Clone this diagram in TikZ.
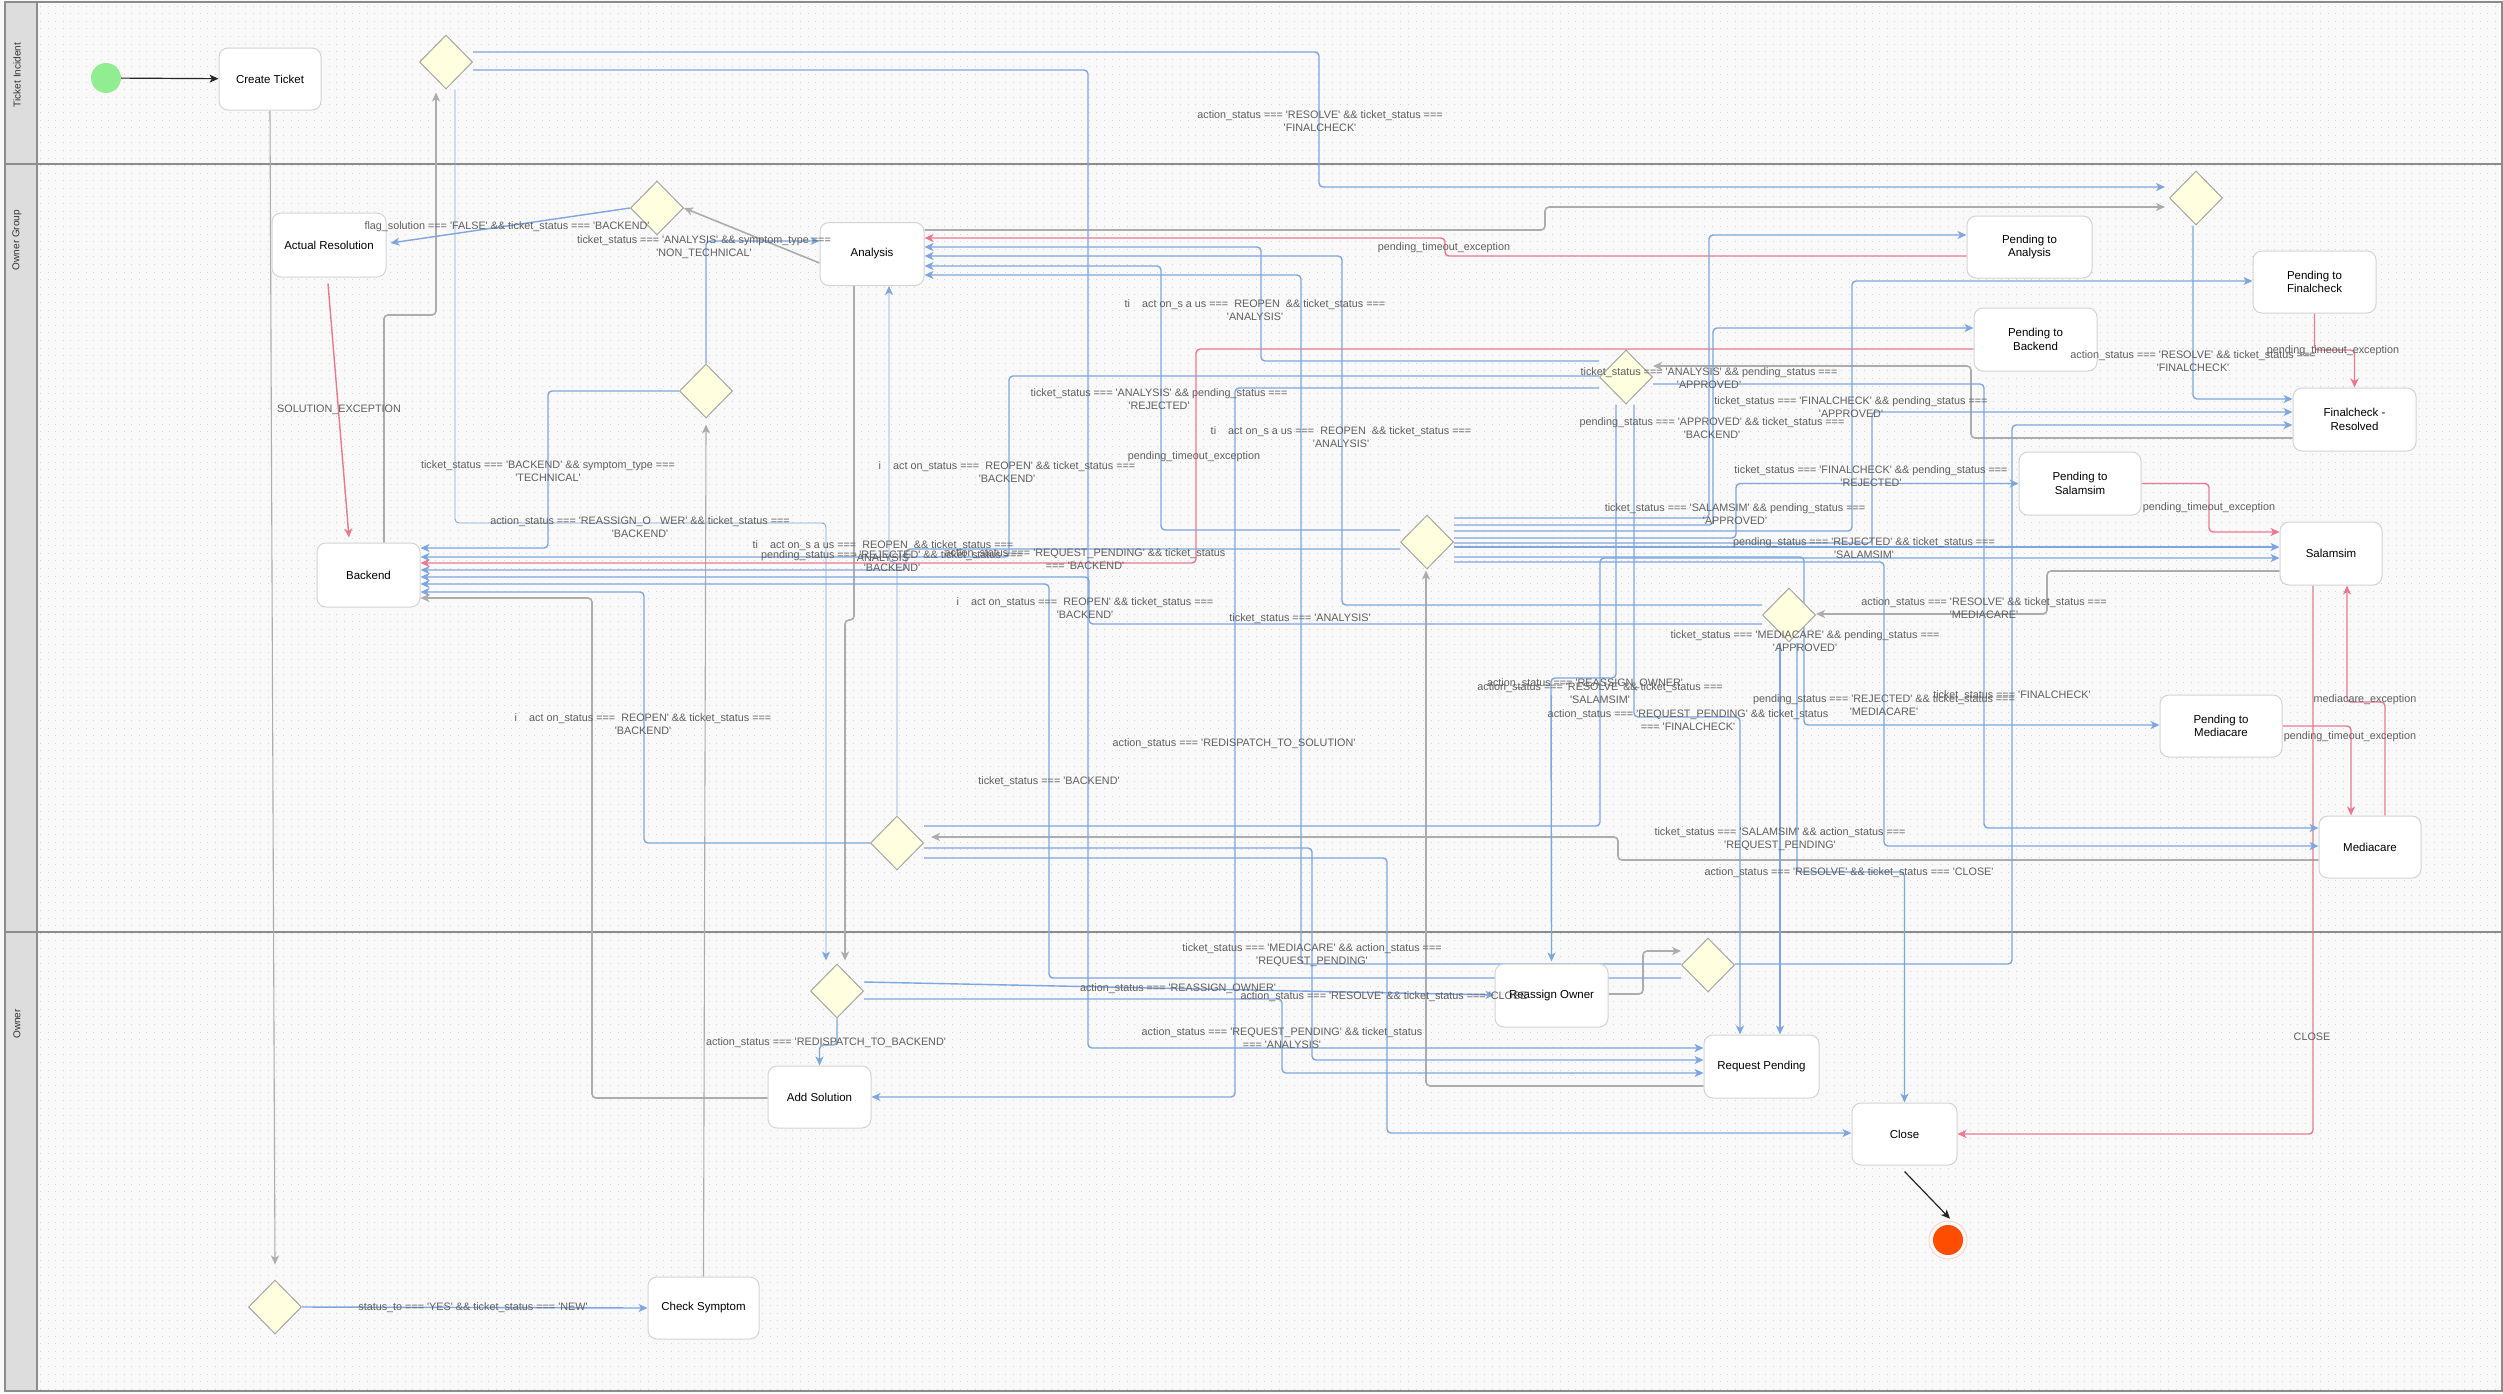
\documentclass[tikz,border=0pt]{standalone}
\usepackage{fontspec}
\setmainfont{Liberation Sans}[Ligatures=TeXOff]
\usetikzlibrary{arrows.meta,shapes.geometric}
\definecolor{bgc}{RGB}{249,249,249}
\definecolor{dotc}{RGB}{212,212,212}
\definecolor{lanehd}{RGB}{221,221,221}
\definecolor{laneln}{RGB}{140,140,140}
\definecolor{bluE}{RGB}{126,166,224}
\definecolor{redE}{RGB}{234,120,142}
\definecolor{grayE}{RGB}{172,172,172}
\definecolor{dfill}{RGB}{255,255,224}
\definecolor{dline}{RGB}{165,165,165}
\definecolor{nline}{RGB}{212,212,212}
\definecolor{lblc}{RGB}{95,95,95}
\pgfdeclarelayer{paper}
\pgfdeclarelayer{wires}
\pgfsetlayers{paper,wires,main}
\begin{document}
\begin{tikzpicture}[x=1pt,y=-1pt,
  state/.style={rectangle, rounded corners=9pt, draw=nline, line width=1pt, fill=white,
    align=center, inner sep=2pt, font=\fontsize{11.5}{13.5}\selectfont},
  gate/.style={diamond, minimum width=53pt, minimum height=54pt, inner sep=0pt,
    draw=dline, line width=1pt, fill=dfill},
  lbl/.style={font=\fontsize{10.8}{12.8}\selectfont, text=lblc, align=center, inner sep=0pt},
  tip/.style={-{Stealth[length=9pt,width=8pt,inset=2.5pt]}},
  be/.style={draw=bluE, line width=1.4pt, rounded corners=4pt, tip},
  bt/.style={draw=bluE, line width=0.9pt, rounded corners=4pt, tip},
  re/.style={draw=redE, line width=1.4pt, rounded corners=4pt, tip},
  ge/.style={draw=grayE, line width=1.6pt, rounded corners=4pt, tip},
  gt/.style={draw=grayE, line width=1.1pt, rounded corners=4pt, tip},
  blk/.style={draw=black!85, line width=1.2pt, tip}]
\useasboundingbox (0,0) rectangle (2503,1393);

% ---------- paper, grid and swimlanes ----------
\begin{pgfonlayer}{paper}
  \fill[bgc] (0,0) rectangle (2503,1393);
  \foreach \yy in {6,13.6,...,1390}
    \draw[dotc, line width=0.9pt, dash pattern=on 0.9pt off 6.7pt] (40,\yy) -- (2503,\yy);
  \fill[lanehd] (5,2) rectangle (37,1391);
  \draw[laneln, line width=1.2pt] (5,2) rectangle (2502,1391);
  \draw[laneln, line width=1.2pt] (37,2) -- (37,1391);
  \draw[laneln, line width=1.2pt] (5,164) -- (2502,164);
  \draw[laneln, line width=1.2pt] (5,932) -- (2502,932);
  \node[rotate=90, font=\fontsize{10}{12}\selectfont, text=black!80] (lane1) at (17,75) {Ticket Incident};
  \node[rotate=90, font=\fontsize{10}{12}\selectfont, text=black!80] (lane2) at (17,240) {Owner Group};
  \node[rotate=90, font=\fontsize{10}{12}\selectfont, text=black!80] (lane3) at (17,1024) {Owner};
\end{pgfonlayer}

% ---------- states ----------
\node[circle, minimum size=30pt, inner sep=0pt, fill={rgb,255:red,144;green,238;blue,144}] (init) at (106,78) {};
\node[state, minimum width=102pt, minimum height=62pt] (CT) at (270,79) {Create Ticket};
\node[state, minimum width=114pt, minimum height=64pt] (AR) at (329,245) {Actual Resolution};
\node[state, minimum width=104pt, minimum height=63pt] (AN) at (872,254) {Analysis};
\node[state, minimum width=103pt, minimum height=64pt] (BE) at (368.5,575) {Backend};
\node[state, minimum width=125pt, minimum height=62pt] (PA) at (2029.5,247) {Pending to\\Analysis};
\node[state, minimum width=123pt, minimum height=62pt] (PF) at (2314.5,282) {Pending to\\Finalcheck};
\node[state, minimum width=123pt, minimum height=63pt] (PB) at (2035.5,339.5) {Pending to\\Backend};
\node[state, minimum width=123pt, minimum height=63pt] (FR) at (2354.5,419.5) {Finalcheck -\\Resolved};
\node[state, minimum width=122pt, minimum height=63pt] (PS) at (2080,483.5) {Pending to\\Salamsim};
\node[state, minimum width=102pt, minimum height=63pt] (SA) at (2331,553.5) {Salamsim};
\node[state, minimum width=122pt, minimum height=62pt] (PM) at (2221,726) {Pending to\\Mediacare};
\node[state, minimum width=102pt, minimum height=62pt] (MC) at (2370,847) {Mediacare};
\node[state, minimum width=103pt, minimum height=62pt] (AS) at (819.5,1097) {Add Solution};
\node[state, minimum width=111pt, minimum height=62pt] (CS) at (703.5,1308) {Check Symptom};
\node[state, minimum width=113pt, minimum height=63pt] (RO) at (1551.5,995.5) {Reassign Owner};
\node[state, minimum width=115pt, minimum height=63pt] (RP) at (1761.5,1066.5) {Request Pending};
\node[state, minimum width=105pt, minimum height=62pt] (CL) at (1904.5,1134) {Close};
\node[circle, minimum size=38pt, inner sep=0pt, draw={rgb,255:red,255;green,200;blue,185}, line width=0.6pt] (finring) at (1948,1240) {};
\node[circle, minimum size=30pt, inner sep=0pt, fill={rgb,255:red,255;green,77;blue,0}] (fin) at (1948,1240) {};

% ---------- decisions ----------
\node[gate] (D1) at (446,62) {};
\node[gate] (D2) at (657,208) {};
\node[gate] (D3) at (706,391) {};
\node[gate] (D4) at (2196,198) {};
\node[gate] (D5) at (1626,377) {};
\node[gate] (D6) at (1427,542) {};
\node[gate] (D7) at (1789,615) {};
\node[gate] (D8) at (897,843) {};
\node[gate] (D9) at (837,991) {};
\node[gate] (D10) at (275,1307) {};
\node[gate] (D11) at (1708,965) {};

% ---------- connectors ----------
\begin{pgfonlayer}{wires}
  \draw[blk] (init) -- (CT);
  \draw[blk] ([yshift=-6pt]CL.south) -- ([xshift=2pt,yshift=2pt]finring.north);
  % states into their decisions
  \draw[gt] (CT.south) -- ([yshift=15pt]D10.north);
  \draw[gt] (CS.north) -- ([yshift=-6pt]D3.south);
  \draw[ge] ([yshift=-9pt]AN.west) -- (D2.east);
  \draw[ge] ([xshift=15.5pt]BE.north) -- (384,315) -- (436,315) -- ([xshift=-10pt,yshift=-3pt]D1.south);
  \draw[ge] ([yshift=24pt]AN.east) -- (1545,230) -- (1545,207) -- ([xshift=-4pt,yshift=-9pt]D4.west);
  \draw[ge] ([yshift=-18.5pt]FR.west) -- (1971,438) -- (1971,366) -- ([yshift=11pt]D5.east);
  \draw[ge] ([yshift=-17.5pt]SA.west) -- (2047,571) -- (2047,614) -- ([yshift=1pt]D7.east);
  \draw[ge] ([yshift=-13pt]MC.west) -- (1618,860) -- (1618,837) -- ([xshift=7pt,yshift=6pt]D8.east);
  \draw[ge] ([xshift=-18pt]AN.south) -- (854,620) -- (845,620) -- ([xshift=8pt,yshift=3pt]D9.north);
  \draw[ge] ([yshift=-19.5pt]RP.west) -- (1426,1086) -- ([xshift=-1pt,yshift=-1pt]D6.south);
  \draw[ge] ([yshift=1.5pt]RO.east) -- (1643,994) -- (1643,951) -- ([yshift=14pt]D11.west);
  \draw[ge] ([yshift=-1pt]AS.west) -- (592,1098) -- (592,598) -- ([yshift=-23pt]BE.east);
  % exceptions
  \draw[re] ([xshift=-1pt,yshift=-6pt]AR.south) -- ([xshift=-19.5pt,yshift=5pt]BE.north);
  \draw[re] ([yshift=-9pt]PA.west) -- (1445,256) -- (1445,238) -- ([yshift=16pt]AN.east);
  \draw[re] ([yshift=-9.5pt]PB.west) -- (1196,349) -- (1196,563) -- ([yshift=12pt]BE.east);
  \draw[re] (PF.south) -- (2314.5,350) -- (2354.5,350) -- (FR.north);
  \draw[re] (PS.east) -- (2209,483.5) -- (2209,532) -- ([yshift=21.5pt]SA.west);
  \draw[re] (PM.east) -- (2351,726) -- ([xshift=-19pt]MC.north);
  \draw[re] ([xshift=15pt]MC.north) -- (2385,702) -- (2347,702) -- ([xshift=16pt]SA.south);
  \draw[re] ([xshift=-18pt]SA.south) -- (2313,1134) -- (CL.east);
  % decision outcomes
  \draw[be] (D10.east) -- (CS.west);
  \draw[be] (D3.north) -- (706,241) -- ([yshift=13pt]AN.west);
  \draw[be] (D3.west) -- (548,391) -- (548,548) -- ([yshift=27pt]BE.east);
  \draw[be] (D2.west) -- ([xshift=4pt,yshift=2pt]AR.east);
  \draw[be] ([yshift=10pt]D1.east) -- (1319,52) -- (1319,187) -- ([xshift=-4pt,yshift=11pt]D4.west);
  \draw[bt] ([xshift=9pt]D1.south) -- (455,523) -- (826,523) -- ([xshift=-11pt,yshift=3pt]D9.north);
  \draw[be] ([yshift=-8pt]D1.east) -- (1088,70) -- (1088,1048) -- ([yshift=18.5pt]RP.west);
  \draw[be] ([xshift=-3pt]D4.south) -- (2193,399) -- ([yshift=20.5pt]FR.west);
  \draw[be] ([yshift=16pt]D5.west) -- (1261,361) -- (1261,247) -- ([yshift=7pt]AN.east);
  \draw[be] ([yshift=1pt]D5.west) -- (1009,376) -- (1009,557) -- ([yshift=18pt]BE.east);
  \draw[be] ([yshift=-11pt]D5.west) -- (1235,388) -- (1235,1097) -- (AS.east);
  \draw[be] ([xshift=-10pt]D5.south) -- (1616,678) -- (1551,678) -- ([yshift=2pt]RO.north);
  \draw[be] ([xshift=8pt]D5.south) -- (1634,717) -- (1740,717) -- ([xshift=-21.5pt]RP.north);
  \draw[be] ([yshift=-7pt]D5.east) -- (1984,384) -- (1984,828) -- ([yshift=19pt]MC.west);
  \draw[be] ([yshift=12pt]D6.west) -- (1161,530) -- (1161,266) -- ([yshift=-12pt]AN.east);
  \draw[be] ([yshift=-7pt]D6.west) -- (906,549) -- (906,570) -- ([yshift=5pt]BE.east);
  \draw[be] ([yshift=24pt]D6.east) -- (1709,518) -- (1709,235) -- ([yshift=12pt]PA.west);
  \draw[be] ([yshift=17pt]D6.east) -- (1713,525) -- (1713,328) -- ([yshift=11.5pt]PB.west);
  \draw[be] ([yshift=11pt]D6.east) -- (1852,531) -- (1852,281) -- ([yshift=1pt]PF.west);
  \draw[be] ([yshift=4pt]D6.east) -- (1736,538) -- (1736,483.5) -- (PS.west);
  \draw[be] ([yshift=-1pt]D6.east) -- (1872,543) -- (1872,412) -- ([yshift=7.5pt]FR.west);
  \draw[be] ([yshift=-5pt]D6.east) -- ([yshift=6.5pt]SA.west);
  \draw[be] ([yshift=-15pt]D6.east) -- (1804,557) -- (1804,725) -- ([yshift=1pt]PM.west);
  \draw[be] ([yshift=-20pt]D6.east) -- (1884,562) -- (1884,846) -- ([yshift=1pt]MC.west);
  \draw[be] ([yshift=10pt]D7.west) -- (1342,605) -- (1342,256) -- ([yshift=-2pt]AN.east);
  \draw[be] ([yshift=-9pt]D7.west) -- (1089,624) -- (1089,577) -- ([yshift=-2pt]BE.east);
  \draw[be] ([xshift=-9pt]D7.south) -- ([xshift=18.5pt]RP.north);
  \draw[be] ([xshift=8pt]D7.south) -- (1797,872) -- (1904.5,872) -- (CL.north);
  \draw[be] (D8.west) -- (644,843) -- (644,592) -- ([yshift=-17pt]BE.east);
  \draw[bt] (D8.north) -- (897,562) -- (889,562) -- ([xshift=17pt]AN.south);
  \draw[be] ([yshift=17pt]D8.east) -- (1600,826) -- (1600,558) -- ([yshift=-4.5pt]SA.west);
  \draw[be] ([yshift=-5pt]D8.east) -- (1312,848) -- (1312,1060) -- ([yshift=6.5pt]RP.west);
  \draw[be] ([yshift=-15pt]D8.east) -- (1387,858) -- (1387,1133) -- ([yshift=1pt]CL.west);
  \draw[be] (D9.south) -- (837,1045) -- (819.5,1045) -- (AS.north);
  \draw[be] ([yshift=9pt]D9.east) -- ([yshift=0.5pt]RO.west);
  \draw[be] ([yshift=-8pt]D9.east) -- (1282,999) -- (1282,1073) -- ([yshift=-6.5pt]RP.west);
  \draw[be] ([yshift=1pt]D11.east) -- (2012,964) -- (2012,425) -- ([yshift=-5.5pt]FR.west);
  \draw[be] ([yshift=1pt]D11.west) -- (1301,964) -- (1301,275) -- ([yshift=-21pt]AN.east);
  \draw[be] ([yshift=-13pt]D11.west) -- (1049,978) -- (1049,584) -- ([yshift=-9pt]BE.east);
\end{pgfonlayer}

% ---------- guard labels ----------
\node[lbl] (l1) at (1320,121) {action\_status === 'RESOLVE' \&\& ticket\_status ===\\'FINALCHECK'};
\node[lbl] (l2) at (1444,248) {pending\_timeout\_exception};
\node[lbl] (l3) at (1255,310) {ti\ \ \ \ act on\_s a us ===\ \ REOPEN\ \ \&\& ticket\_status ===\\'ANALYSIS'};
\node[lbl] (l4) at (507,227) {flag\_solution === 'FALSE' \&\& ticket\_status === 'BACKEND'};
\node[lbl] (l5) at (704,247) {ticket\_status === 'ANALYSIS' \&\& symptom\_type ===\\'NON\_TECHNICAL'};
\node[lbl] (l6) at (339,410) {SOLUTION\_EXCEPTION};
\node[lbl] (l7) at (548,471) {ticket\_status === 'BACKEND' \&\& symptom\_type ===\\'TECHNICAL'};
\node[lbl] (l8) at (640,527) {action\_status === 'REASSIGN\_O\ \ \ WER' \&\& ticket\_status ===\\'BACKEND'};
\node[lbl] (l9) at (1159,399) {ticket\_status === 'ANALYSIS' \&\& pending\_status ===\\'REJECTED'};
\node[lbl] (l10) at (1341,437) {ti\ \ \ \ act on\_s a us ===\ \ REOPEN\ \ \&\& ticket\_status ===\\'ANALYSIS'};
\node[lbl] (l11) at (1194,457) {pending\_timeout\_exception};
\node[lbl] (l12) at (1007,472) {i\ \ \ \ act on\_status ===\ \ REOPEN' \&\& ticket\_status ===\\'BACKEND'};
\node[lbl] (l13) at (883,551) {ti\ \ \ \ act on\_s a us ===\ \ REOPEN\ \ \&\& ticket\_status ===\\'ANALYSIS'};
\node[lbl] (l14) at (892,561) {pending\_status === 'REJECTED' \&\& ticket\_status ===\\'BACKEND'};
\node[lbl] (l15) at (1085,559) {action\_status === 'REQUEST\_PENDING' \&\& ticket\_status\\=== 'BACKEND'};
\node[lbl] (l16) at (1085,608) {i\ \ \ \ act on\_status ===\ \ REOPEN' \&\& ticket\_status ===\\'BACKEND'};
\node[lbl] (l17) at (1300,619) {ticket\_status === 'ANALYSIS'};
\node[lbl] (l18) at (643,724) {i\ \ \ \ act on\_status ===\ \ REOPEN' \&\& ticket\_status ===\\'BACKEND'};
\node[lbl] (l19) at (1234,744) {action\_status === 'REDISPATCH\_TO\_SOLUTION'};
\node[lbl] (l20) at (1049,782) {ticket\_status === 'BACKEND'};
\node[lbl] (l21) at (1709,378) {ticket\_status === 'ANALYSIS' \&\& pending\_status ===\\'APPROVED'};
\node[lbl] (l22) at (1851,407) {ticket\_status === 'FINALCHECK' \&\& pending\_status ===\\'APPROVED'};
\node[lbl] (l23) at (1712,428) {pending\_status === 'APPROVED' \&\& ticket\_status ===\\'BACKEND'};
\node[lbl] (l24) at (2193,361) {action\_status === 'RESOLVE' \&\& ticket\_status ===\\'FINALCHECK'};
\node[lbl] (l25) at (2333,351) {pending\_timeout\_exception};
\node[lbl] (l26) at (1871,476) {ticket\_status === 'FINALCHECK' \&\& pending\_status ===\\'REJECTED'};
\node[lbl] (l27) at (2209,508) {pending\_timeout\_exception};
\node[lbl] (l28) at (1735,514) {ticket\_status === 'SALAMSIM' \&\& pending\_status ===\\'APPROVED'};
\node[lbl] (l29) at (1864,548) {pending\_status === 'REJECTED' \&\& ticket\_status ===\\'SALAMSIM'};
\node[lbl] (l30) at (1984,608) {action\_status === 'RESOLVE' \&\& ticket\_status ===\\'MEDIACARE'};
\node[lbl] (l31) at (1805,641) {ticket\_status === 'MEDIACARE' \&\& pending\_status ===\\'APPROVED'};
\node[lbl] (l32) at (1585,684) {action\_status === 'REASSIGN\_OWNER'};
\node[lbl] (l33) at (1600,693) {action\_status === 'RESOLVE' \&\& ticket\_status ===\\'SALAMSIM'};
\node[lbl] (l34) at (1688,720) {action\_status === 'REQUEST\_PENDING' \&\& ticket\_status\\=== 'FINALCHECK'};
\node[lbl] (l35) at (1884,705) {pending\_status === 'REJECTED' \&\& ticket\_status ===\\'MEDIACARE'};
\node[lbl] (l36) at (2012,696) {ticket\_status === 'FINALCHECK'};
\node[lbl] (l37) at (2365,700) {mediacare\_exception};
\node[lbl] (l38) at (2350,737) {pending\_timeout\_exception};
\node[lbl] (l39) at (1780,839) {ticket\_status === 'SALAMSIM' \&\& action\_status ===\\'REQUEST\_PENDING'};
\node[lbl] (l40) at (1849,873) {action\_status === 'RESOLVE' \&\& ticket\_status === 'CLOSE'};
\node[lbl] (l41) at (1312,955) {ticket\_status === 'MEDIACARE' \&\& action\_status ===\\'REQUEST\_PENDING'};
\node[lbl] (l42) at (1178,989) {action\_status === 'REASSIGN\_OWNER'};
\node[lbl] (l43) at (1385,997) {action\_status === 'RESOLVE' \&\& ticket\_status === 'CLOSE'};
\node[lbl] (l44) at (826,1043) {action\_status === 'REDISPATCH\_TO\_BACKEND'};
\node[lbl] (l45) at (1282,1038) {action\_status === 'REQUEST\_PENDING' \&\& ticket\_status\\=== 'ANALYSIS'};
\node[lbl] (l46) at (2312,1037) {CLOSE};
\node[lbl] (l47) at (473,1308) {status\_to === 'YES' \&\& ticket\_status === 'NEW'};
\end{tikzpicture}
\end{document}
